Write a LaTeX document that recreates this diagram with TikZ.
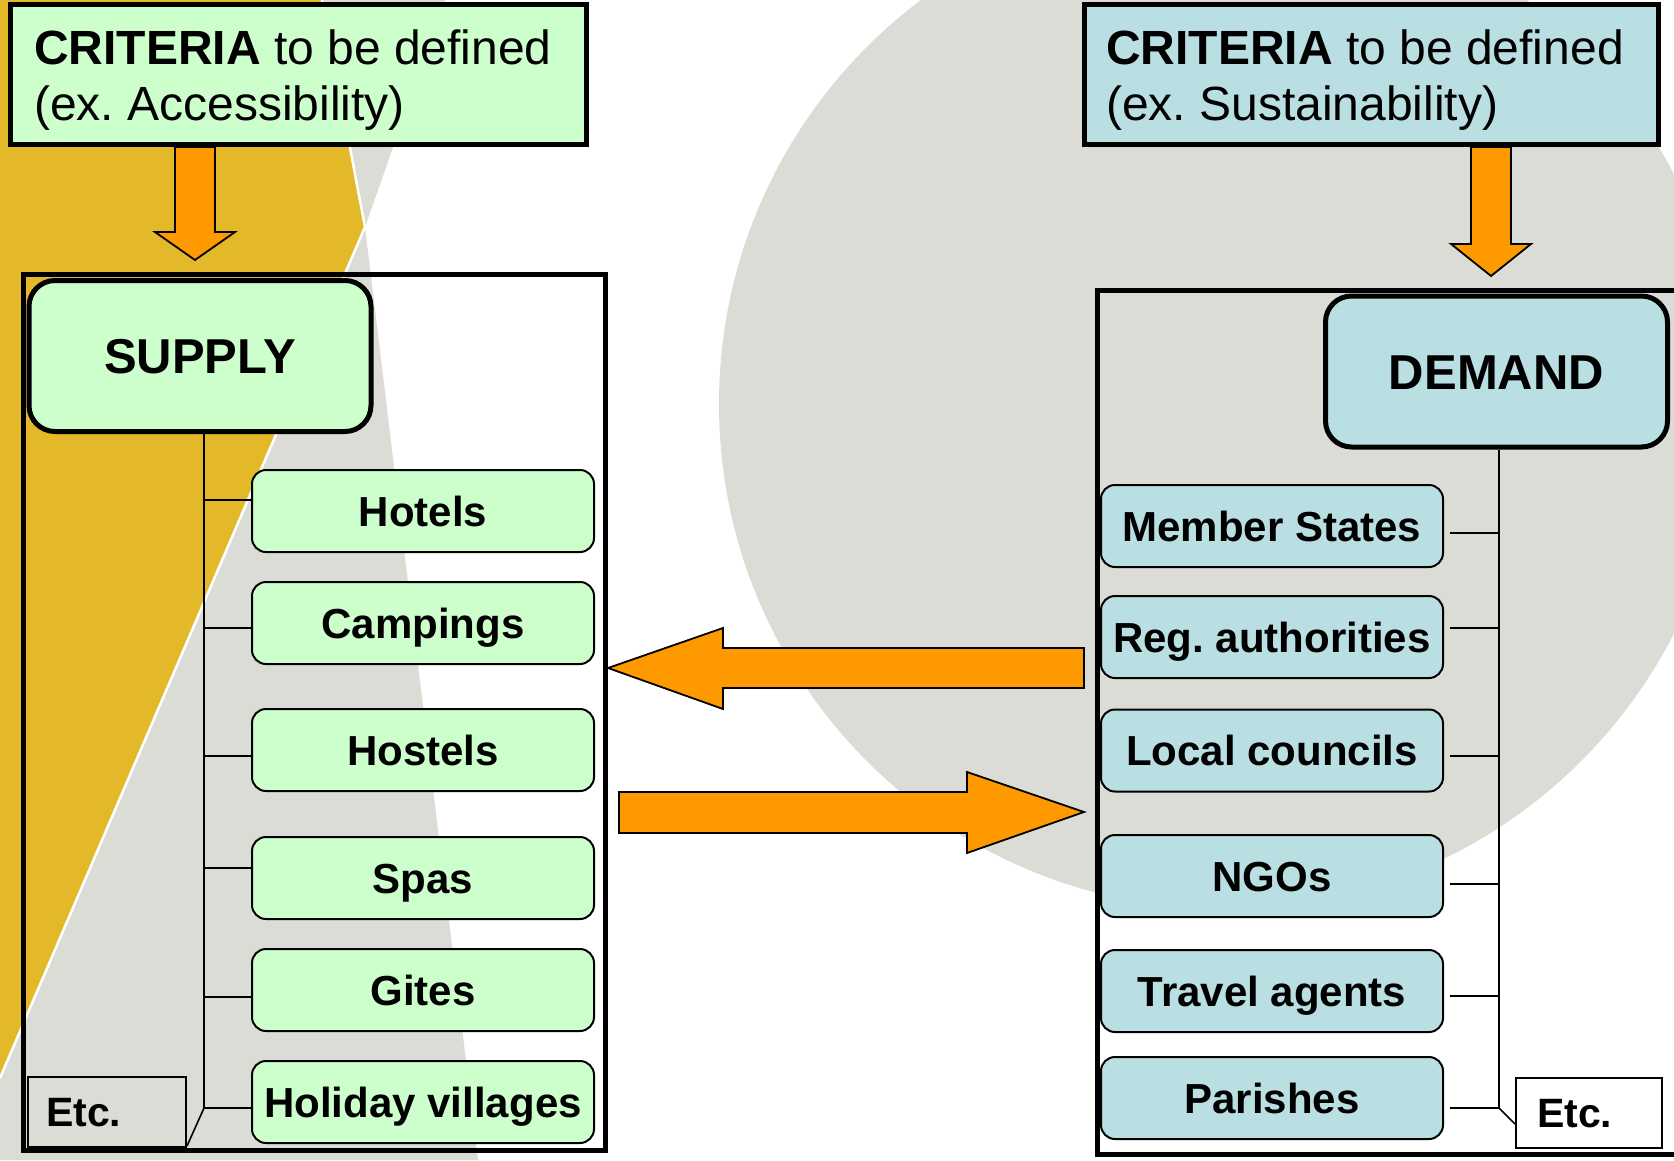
\documentclass[tikz,border=0pt]{standalone}
\usepackage{fontspec}
\setmainfont{Liberation Sans}
\frenchspacing
\definecolor{goldbg}{HTML}{E3B929}
\definecolor{greybg}{HTML}{DBDCD6}
\definecolor{greenfill}{HTML}{CCFFCC}
\definecolor{bluefill}{HTML}{B9DFE3}
\definecolor{orangearrow}{HTML}{FF9900}
\begin{document}
\begin{tikzpicture}[x=1pt,y=-1pt,
  critbox/.style={draw, line width=5pt, inner sep=0pt, minimum height=140pt},
  crittext/.style={anchor=base west, inner sep=0pt, font=\fontsize{48}{56}\selectfont},
  headbox/.style={draw, line width=5pt, rounded corners=26pt, inner sep=0pt, minimum width=342pt, minimum height=151pt, font=\fontsize{49}{56}\selectfont\bfseries, text height=35.1pt, text depth=0pt},
  outerbox/.style={draw, line width=5pt, inner sep=0pt},
  itembox/.style={draw, line width=2pt, rounded corners=14pt, inner sep=0pt, minimum width=342pt, minimum height=82pt, font=\fontsize{42}{50}\selectfont\bfseries, text height=30.1pt, text depth=0pt},
  etcbox/.style={draw, line width=2pt, inner sep=0pt, minimum height=70pt, font=\fontsize{41}{48}\selectfont\bfseries, text height=29.4pt, text depth=0pt, align=left},
  blockarrow/.style={fill=orangearrow, draw=black, line width=1.8pt, line join=miter},
  treeline/.style={draw=black, line width=1.6pt}
]
\useasboundingbox (0,0) rectangle (1674,1160);
% background
\fill[white] (0,0) rectangle (1674,1160);
\fill[greybg] (1224,404) circle (505);
\fill[greybg] (322,0) -- (445,0) -- (365,227) -- (478,1160) -- (0,1160) -- (0,0) -- cycle;
\fill[goldbg] (0,0) -- (322,0) -- (365,227) -- (0,1078) -- cycle;
\draw[white, line width=2.5pt] (322,0) -- (365,227) -- (0,1078);

% criteria boxes
\node[critbox, fill=greenfill, minimum width=576pt] (critL) at (298.5,74.75) {};
\node[crittext] (critLa) at (34,64) {\textbf{CRITERIA} to be defined};
\node[crittext] (critLb) at (34,120) {(ex. Accessibility)};
\node[critbox, fill=bluefill, minimum width=574.5pt] (critR) at (1371.25,74.75) {};
\node[crittext] (critRa) at (1106,64) {\textbf{CRITERIA} to be defined};
\node[crittext] (critRb) at (1106,120) {(ex. Sustainability)};

% down arrows
\draw[blockarrow] (175,147) -- (215,147) -- (215,232) -- (235,232) -- (195,260) -- (155,232) -- (175,232) -- cycle;
\draw[blockarrow] (1471,147) -- (1511,147) -- (1511,244) -- (1531,244) -- (1491,276) -- (1451,244) -- (1471,244) -- cycle;

% outer boxes
\node[outerbox, minimum width=582pt, minimum height=876pt] (supplyframe) at (314.5,712.5) {};
\node[outerbox, minimum width=640pt, minimum height=864pt] (demandframe) at (1417.5,722.5) {};

% head boxes
\node[headbox, fill=greenfill] (supply) at (200,356) {SUPPLY};
\node[headbox, fill=bluefill] (demand) at (1496.5,371.5) {DEMAND};

% supply items
\node[itembox, fill=greenfill] (hotels) at (423,511) {Hotels};
\node[itembox, fill=greenfill] (campings) at (423,623) {Campings};
\node[itembox, fill=greenfill] (hostels) at (423,750) {Hostels};
\node[itembox, fill=greenfill] (spas) at (423,878) {Spas};
\node[itembox, fill=greenfill] (gites) at (423,990) {Gites};
\node[itembox, fill=greenfill] (holiday) at (423,1102) {Holiday villages};

% demand items
\node[itembox, fill=bluefill] (member) at (1272,526) {Member States};
\node[itembox, fill=bluefill] (reg) at (1272,637) {Reg. authorities};
\node[itembox, fill=bluefill] (local) at (1272,750.5) {Local councils};
\node[itembox, fill=bluefill] (ngos) at (1272,876) {NGOs};
\node[itembox, fill=bluefill] (travel) at (1272,991) {Travel agents};
\node[itembox, fill=bluefill] (parishes) at (1272,1098) {Parishes};

% etc boxes
\node[etcbox, minimum width=158pt, text width=122pt] (etcL) at (107,1112) {Etc.};
\node[etcbox, minimum width=146pt, text width=104pt] (etcR) at (1589,1113) {Etc.};

% trees
\coordinate (lt) at (204,0);
\coordinate (rt) at (1499,0);
\draw[treeline] (supply.south -| lt) -- (lt |- 0,1108);
\draw[treeline] (lt |- 0,500) -- (hotels.west |- 0,500);
\draw[treeline] (lt |- 0,628) -- (campings.west |- 0,628);
\draw[treeline] (lt |- 0,756) -- (hostels.west |- 0,756);
\draw[treeline] (lt |- 0,868) -- (spas.west |- 0,868);
\draw[treeline] (lt |- 0,997) -- (gites.west |- 0,997);
\draw[treeline] (lt |- 0,1108) -- (holiday.west |- 0,1108);
\draw[treeline] (lt |- 0,1108) -- (etcL.east |- 0,1146);

\draw[treeline] (demand.south -| rt) -- (rt |- 0,1108);
\draw[treeline, shorten <=6pt] (member.east |- 0,533) -- (rt |- 0,533);
\draw[treeline, shorten <=6pt] (reg.east |- 0,628) -- (rt |- 0,628);
\draw[treeline, shorten <=6pt] (local.east |- 0,756) -- (rt |- 0,756);
\draw[treeline, shorten <=6pt] (ngos.east |- 0,884) -- (rt |- 0,884);
\draw[treeline, shorten <=6pt] (travel.east |- 0,996) -- (rt |- 0,996);
\draw[treeline, shorten <=6pt] (parishes.east |- 0,1108) -- (rt |- 0,1108);
\draw[treeline] (rt |- 0,1108) -- (etcR.west |- 0,1124);

% horizontal block arrows
\coordinate (arrend) at (1084,0);
\draw[blockarrow] (arrend |- 0,648) -- (723,648) -- (723,628) -- (supplyframe.east |- 0,668) -- (723,709) -- (723,688) -- (arrend |- 0,688) -- cycle;
\draw[blockarrow] (619,792) -- (967,792) -- (967,772) -- (arrend |- 0,812) -- (967,853) -- (967,833) -- (619,833) -- cycle;
\end{tikzpicture}
\end{document}
